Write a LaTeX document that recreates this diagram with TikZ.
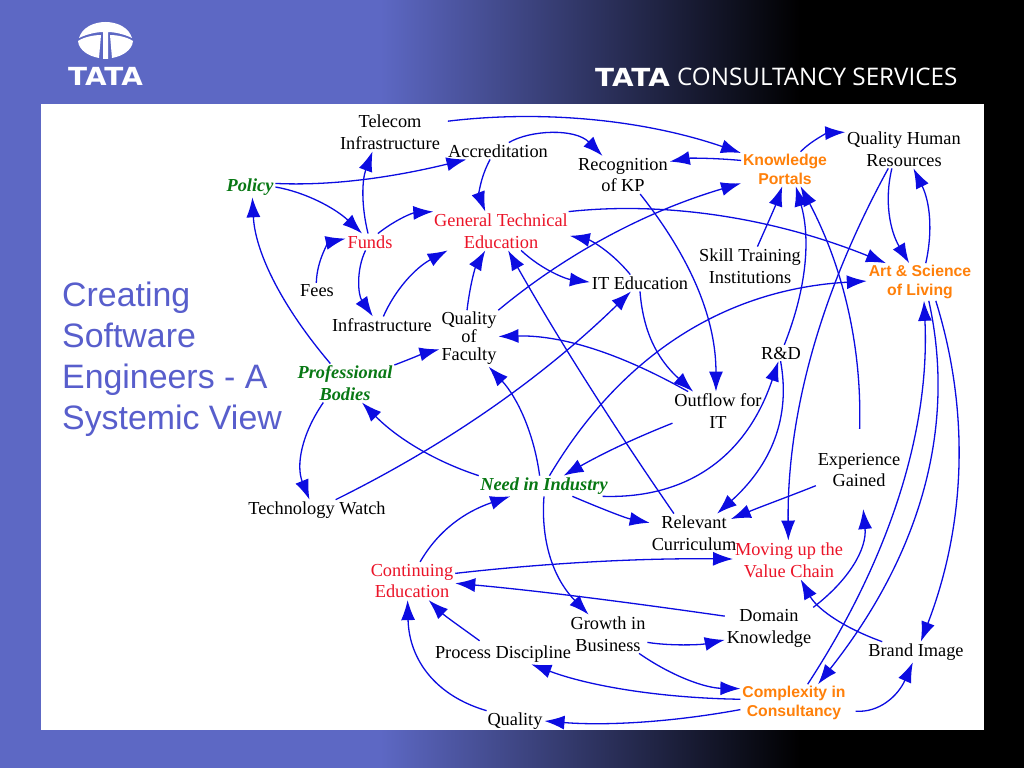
\documentclass[tikz,border=0pt]{standalone}
\usepackage{graphicx}
\usepackage{fontspec}
\setmainfont{Liberation Serif}
\setsansfont{Liberation Sans}
\newfontfamily\headfont{Open Sans}
\newfontfamily\logofont{DejaVu Sans}
\usetikzlibrary{arrows.meta}
\definecolor{slideblue}{RGB}{93,104,196}
\definecolor{titleblue}{RGB}{88,94,204}
\definecolor{edgeblue}{RGB}{12,12,225}
\definecolor{varred}{RGB}{235,20,40}
\definecolor{vargreen}{RGB}{8,120,20}
\definecolor{varorange}{RGB}{255,128,10}
\tikzset{
  textvar/.style={align=center,inner sep=1pt,outer sep=1pt,font=\fontsize{18.4}{22}\selectfont},
  redvar/.style={textvar,text=varred},
  greenvar/.style={textvar,text=vargreen,font=\fontsize{18.4}{22}\selectfont\bfseries\itshape},
  orangevar/.style={textvar,text=varorange,font=\fontsize{15.8}{19}\selectfont\sffamily\bfseries},
  headvar/.style={inner sep=0pt,text=white,font=\logofont\fontsize{25}{25}\selectfont\bfseries},
  flow/.style={draw=edgeblue,line width=1.3bp,-{Latex[length=20bp,width=14bp]}},
}
\begin{document}
\begin{tikzpicture}[x=1bp,y=-1bp,line join=bevel]
  \useasboundingbox (0,0) rectangle (1024,768);
  % Slide background
  \fill [slideblue] (0,0) rectangle (381,768);
  \fill [left color=slideblue,right color=black] (380,0) rectangle (801,768);
  \fill [black] (800,0) rectangle (1024,768);
  \fill [white] (41,104) rectangle (984,730);
  % Logo
  \fill [white] (79,38) .. controls (82,28) and (93,22) .. (105.5,22) .. controls (118,22) and (129,28) .. (132,38) .. controls (124,34) and (114,32) .. (108,32) -- (108,59) -- (103,59) -- (103,32) .. controls (97,32) and (87,34) .. (79,38) -- cycle;
  \fill [white] (78,41) .. controls (84,37) and (94,35) .. (101,35) -- (99,58) .. controls (88,56) and (79,50) .. (78,41) -- cycle;
  \fill [white] (133,41) .. controls (127,37) and (117,35) .. (110,35) -- (112,58) .. controls (123,56) and (132,50) .. (133,41) -- cycle;
  \node (tatalogo) at (105.5,76.5) [headvar] {\scalebox{1.12}[1]{TATA}};
  \node (tatahead) at (595,77) [anchor=west,headvar] {\scalebox{1.12}[1]{TATA}};
  \node (tcshead) at (677,77) [anchor=west,inner sep=0pt,text=white,font=\headfont\fontsize{24.3}{25}\selectfont] {CONSULTANCY SERVICES};
  % Title
  \node (title) at (62,282) [anchor=north west,align=left,inner sep=0pt,text=titleblue,font=\sffamily\fontsize{34}{41}\selectfont] {Creating\\Software\\Engineers - A\\Systemic View};
  % Node: variables
  \node (Telecom) at (390,132) [textvar] {Telecom\\Infrastructure};
  \node (Accreditation) at (498,151) [textvar] {Accreditation};
  \node (Recognition) at (623,175) [textvar] {Recognition\\of KP};
  \node (Portals) at (785,169) [orangevar] {Knowledge\\Portals};
  \node (HumanRes) at (904,149) [textvar] {Quality Human\\Resources};
  \node (Policy) at (250,187) [greenvar] {Policy};
  \node (Funds) at (370,242) [redvar] {Funds};
  \node (GenTech) at (501,231) [redvar] {General Technical\\Education};
  \node (SkillTrain) at (750,266) [textvar] {Skill Training\\Institutions};
  \node (ArtLiving) at (920,282) [orangevar] {Art \& Science\\of Living};
  \node (Fees) at (317,291) [textvar] {Fees};
  \node (ITEdu) at (640,283) [textvar] {IT Education};
  \node (Infra) at (382,325) [textvar] {Infrastructure};
  \node (Faculty) at (469,338.5) [textvar,font=\fontsize{18.4}{18}\selectfont] {Quality\\of\\Faculty};
  \node (RnD) at (781,353) [textvar] {R\&D};
  \node (ProfBodies) at (345,383) [greenvar] {Professional\\Bodies};
  \node (Outflow) at (718,411) [textvar] {Outflow for\\IT};
  \node (Experience) at (859,470) [textvar] {Experience\\Gained};
  \node (NeedInd) at (544,486) [greenvar] {Need in Industry};
  \node (TechWatch) at (317,510) [textvar] {Technology Watch};
  \node (Curriculum) at (694,533) [textvar] {Relevant\\Curriculum};
  \node (ValueChain) at (789,560) [redvar] {Moving up the\\Value Chain};
  \node (ContEdu) at (412,581) [redvar] {Continuing\\Education};
  \node (DomainKn) at (769,628) [textvar] {Domain\\Knowledge};
  \node (Growth) at (608,634) [textvar] {Growth in\\Business};
  \node (Brand) at (916,652) [textvar] {Brand Image};
  \node (Process) at (503,654) [textvar] {Process Discipline};
  \node (Complexity) at (794,703) [orangevar] {Complexity in\\Consultancy};
  \node (Quality) at (515,721) [textvar] {Quality};
  % Edge: Telecom -> Portals
  \draw [flow,shorten <=6bp] (Telecom.11) .. controls (540,110) and (642,119) .. (Portals.160);
  % Edge: Accreditation -> Recognition
  \draw [flow] (Accreditation.38) .. controls (530,130) and (575,128) .. (Recognition.137);
  % Edge: Portals -> Recognition
  \draw [flow] (Portals.169) .. controls (715,158) and (690,158) .. (Recognition.16);
  % Edge: Portals -> HumanRes
  \draw [flow] (Portals.48) .. controls (812,140) and (828,133) .. (HumanRes.164);
  % Edge: Policy -> Accreditation
  \draw [flow] (Policy.8) .. controls (330,186) and (390,178) .. (Accreditation.195);
  % Edge: Policy -> Funds
  \draw [flow] (Policy.0) .. controls (305,192) and (335,208) .. (Funds.133);
  % Edge: ProfBodies -> Policy
  \draw [flow] (ProfBodies.127) .. controls (279,303) and (255,250) .. (Policy.-77);
  % Edge: Funds -> Telecom
  \draw [flow] (Funds.103) .. controls (361,205) and (362,180) .. (Telecom.228);
  % Edge: Funds -> GenTech
  \draw [flow] (Funds.47) .. controls (395,220) and (412,213) .. (GenTech.164);
  % Edge: Fees -> Funds
  \draw [flow] (Fees.95) .. controls (317,258) and (330,242) .. (Funds.172);
  % Edge: Funds -> Infra
  \draw [flow] (Funds.242) .. controls (356,270) and (358,295) .. (Infra.137);
  % Edge: Infra -> GenTech
  \draw [flow] (Infra.81) .. controls (395,290) and (415,268) .. (GenTech.200);
  % Edge: Accreditation -> GenTech
  \draw [flow] (Accreditation.227) .. controls (480,178) and (479,195) .. (GenTech.129);
  % Edge: Faculty -> GenTech
  \draw [flow] (Faculty.94) .. controls (470,285) and (475,268) .. (GenTech.231);
  % Edge: Faculty -> Portals
  \draw [flow] (Faculty.44) .. controls (567,253) and (647,211) .. (Portals.198);
  % Edge: GenTech -> ITEdu
  \draw [flow] (GenTech.-44) .. controls (542,270) and (566,279) .. (ITEdu.179);
  % Edge: ITEdu -> GenTech
  \draw [flow] (ITEdu.139) .. controls (611,251) and (590,240) .. (GenTech.-4);
  % Edge: GenTech -> ArtLiving
  \draw [flow] (GenTech.16.5) .. controls (666,201) and (774,218) .. (ArtLiving.151);
  % Edge: Recognition -> Outflow
  \draw [flow] (Recognition.-48) .. controls (694,262) and (716,322) .. (Outflow.96);
  % Edge: SkillTrain -> Portals
  \draw [flow] (SkillTrain.69) .. controls (767,225) and (775,207) .. (Portals.261);
  % Edge: RnD -> Portals
  \draw [flow] (RnD.68) .. controls (808,285) and (810,236) .. (Portals.-58);
  % Edge: Experience -> Portals
  \draw [flow,shorten <=22bp] (Experience.90) .. controls (862,346) and (843,267) .. (Portals.-48);
  % Edge: HumanRes -> ValueChain
  \draw [flow] (HumanRes.231) .. controls (820,293) and (787,415) .. (ValueChain.92);
  % Edge: HumanRes -> ArtLiving
  \draw [flow] (HumanRes.238) .. controls (884,201) and (890,231) .. (ArtLiving.120);
  % Edge: ArtLiving -> HumanRes
  \draw [flow] (ArtLiving.73) .. controls (933,231) and (930,202) .. (HumanRes.-64);
  % Edge: Complexity -> ArtLiving
  \draw [flow] (Complexity.54) .. controls (892,555) and (930,427) .. (ArtLiving.-78);
  % Edge: ArtLiving -> Complexity
  \draw [flow] (ArtLiving.-65) .. controls (957,428) and (920,555) .. (Complexity.38);
  % Edge: ArtLiving -> Brand
  \draw [flow] (ArtLiving.-50) .. controls (970,411) and (966,524) .. (Brand.65);
  % Edge: Complexity -> Brand
  \draw [flow,shorten <=8bp] (Complexity.-8) .. controls (879,713) and (898,696) .. (Brand.253);
  % Edge: Brand -> ValueChain
  \draw [flow] (Brand.163) .. controls (839,626) and (816,607) .. (ValueChain.-59);
  % Edge: DomainKn -> Experience
  \draw [flow,shorten >=20bp] (DomainKn.25) .. controls (849,580) and (867,549) .. (Experience.-83);
  % Edge: Experience -> Curriculum
  \draw [flow,shorten >=-8bp] (Experience.200) .. controls (790,496) and (760,507) .. (Curriculum.21);
  % Edge: RnD -> Curriculum
  \draw [flow] (RnD.267) .. controls (791,418) and (771,465) .. (Curriculum.40);
  % Edge: NeedInd -> RnD
  \draw [flow] (NeedInd.-10) .. controls (686,499) and (746,458) .. (RnD.253);
  % Edge: Outflow -> NeedInd
  \draw [flow] (Outflow.195) .. controls (630,440) and (600,455) .. (NeedInd.28);
  % Edge: NeedInd -> ArtLiving
  \draw [flow] (NeedInd.62) .. controls (623,352) and (728,289) .. (ArtLiving.179);
  % Edge: NeedInd -> Faculty
  \draw [flow] (NeedInd.113) .. controls (534,433) and (517,397) .. (Faculty.-55);
  % Edge: NeedInd -> ProfBodies
  \draw [flow] (NeedInd.171.5) .. controls (434,461) and (397,438) .. (ProfBodies.-49);
  % Edge: ProfBodies -> Faculty
  \draw [flow] (ProfBodies.20) .. controls (410,359) and (425,353) .. (Faculty.200);
  % Edge: ProfBodies -> TechWatch
  \draw [flow] (ProfBodies.222) .. controls (301,435) and (296,466) .. (TechWatch.126);
  % Edge: TechWatch -> ITEdu
  \draw [flow] (TechWatch.29) .. controls (446,445) and (541,379) .. (ITEdu.223);
  % Edge: ITEdu -> Outflow
  \draw [flow] (ITEdu.-90) .. controls (643,330) and (656,358) .. (Outflow.142);
  % Edge: Outflow -> Faculty
  \draw [flow] (Outflow.147) .. controls (616,351) and (559,335) .. (Faculty.4);
  % Edge: Curriculum -> GenTech
  \draw [flow] (Curriculum.136) .. controls (612,424) and (557,337) .. (GenTech.-70);
  % Edge: NeedInd -> Curriculum
  \draw [flow] (NeedInd.-20) .. controls (595,506) and (625,518) .. (Curriculum.167.5);
  % Edge: NeedInd -> Growth
  \draw [flow] (NeedInd.-90) .. controls (541,535) and (550,575) .. (Growth.135);
  % Edge: ContEdu -> NeedInd
  \draw [flow] (ContEdu.67) .. controls (438,531) and (464,512) .. (NeedInd.197);
  % Edge: ContEdu -> ValueChain
  \draw [flow] (ContEdu.10) .. controls (546,563) and (641,558) .. (ValueChain.179);
  % Edge: DomainKn -> ContEdu
  \draw [flow] (DomainKn.165) .. controls (633,603) and (541,591) .. (ContEdu.-3);
  % Edge: Growth -> DomainKn
  \draw [flow] (Growth.-12.5) .. controls (670,646) and (700,645) .. (DomainKn.195);
  % Edge: Growth -> Complexity
  \draw [flow] (Growth.-32) .. controls (673,677) and (706,688) .. (Complexity.165);
  % Edge: Complexity -> Process
  \draw [flow] (Complexity.176) .. controls (660,698) and (589,686) .. (Process.-20);
  % Edge: Complexity -> Quality
  \draw [flow] (Complexity.187) .. controls (673,722) and (607,726) .. (Quality.0);
  % Edge: Process -> ContEdu
  \draw [flow,shorten <=5bp] (Process.152) .. controls (462,628) and (445,616) .. (ContEdu.-49);
  % Edge: Quality -> ContEdu
  \draw [flow] (Quality.160) .. controls (436,696) and (409,660) .. (ContEdu.257);
\end{tikzpicture}
\end{document}
